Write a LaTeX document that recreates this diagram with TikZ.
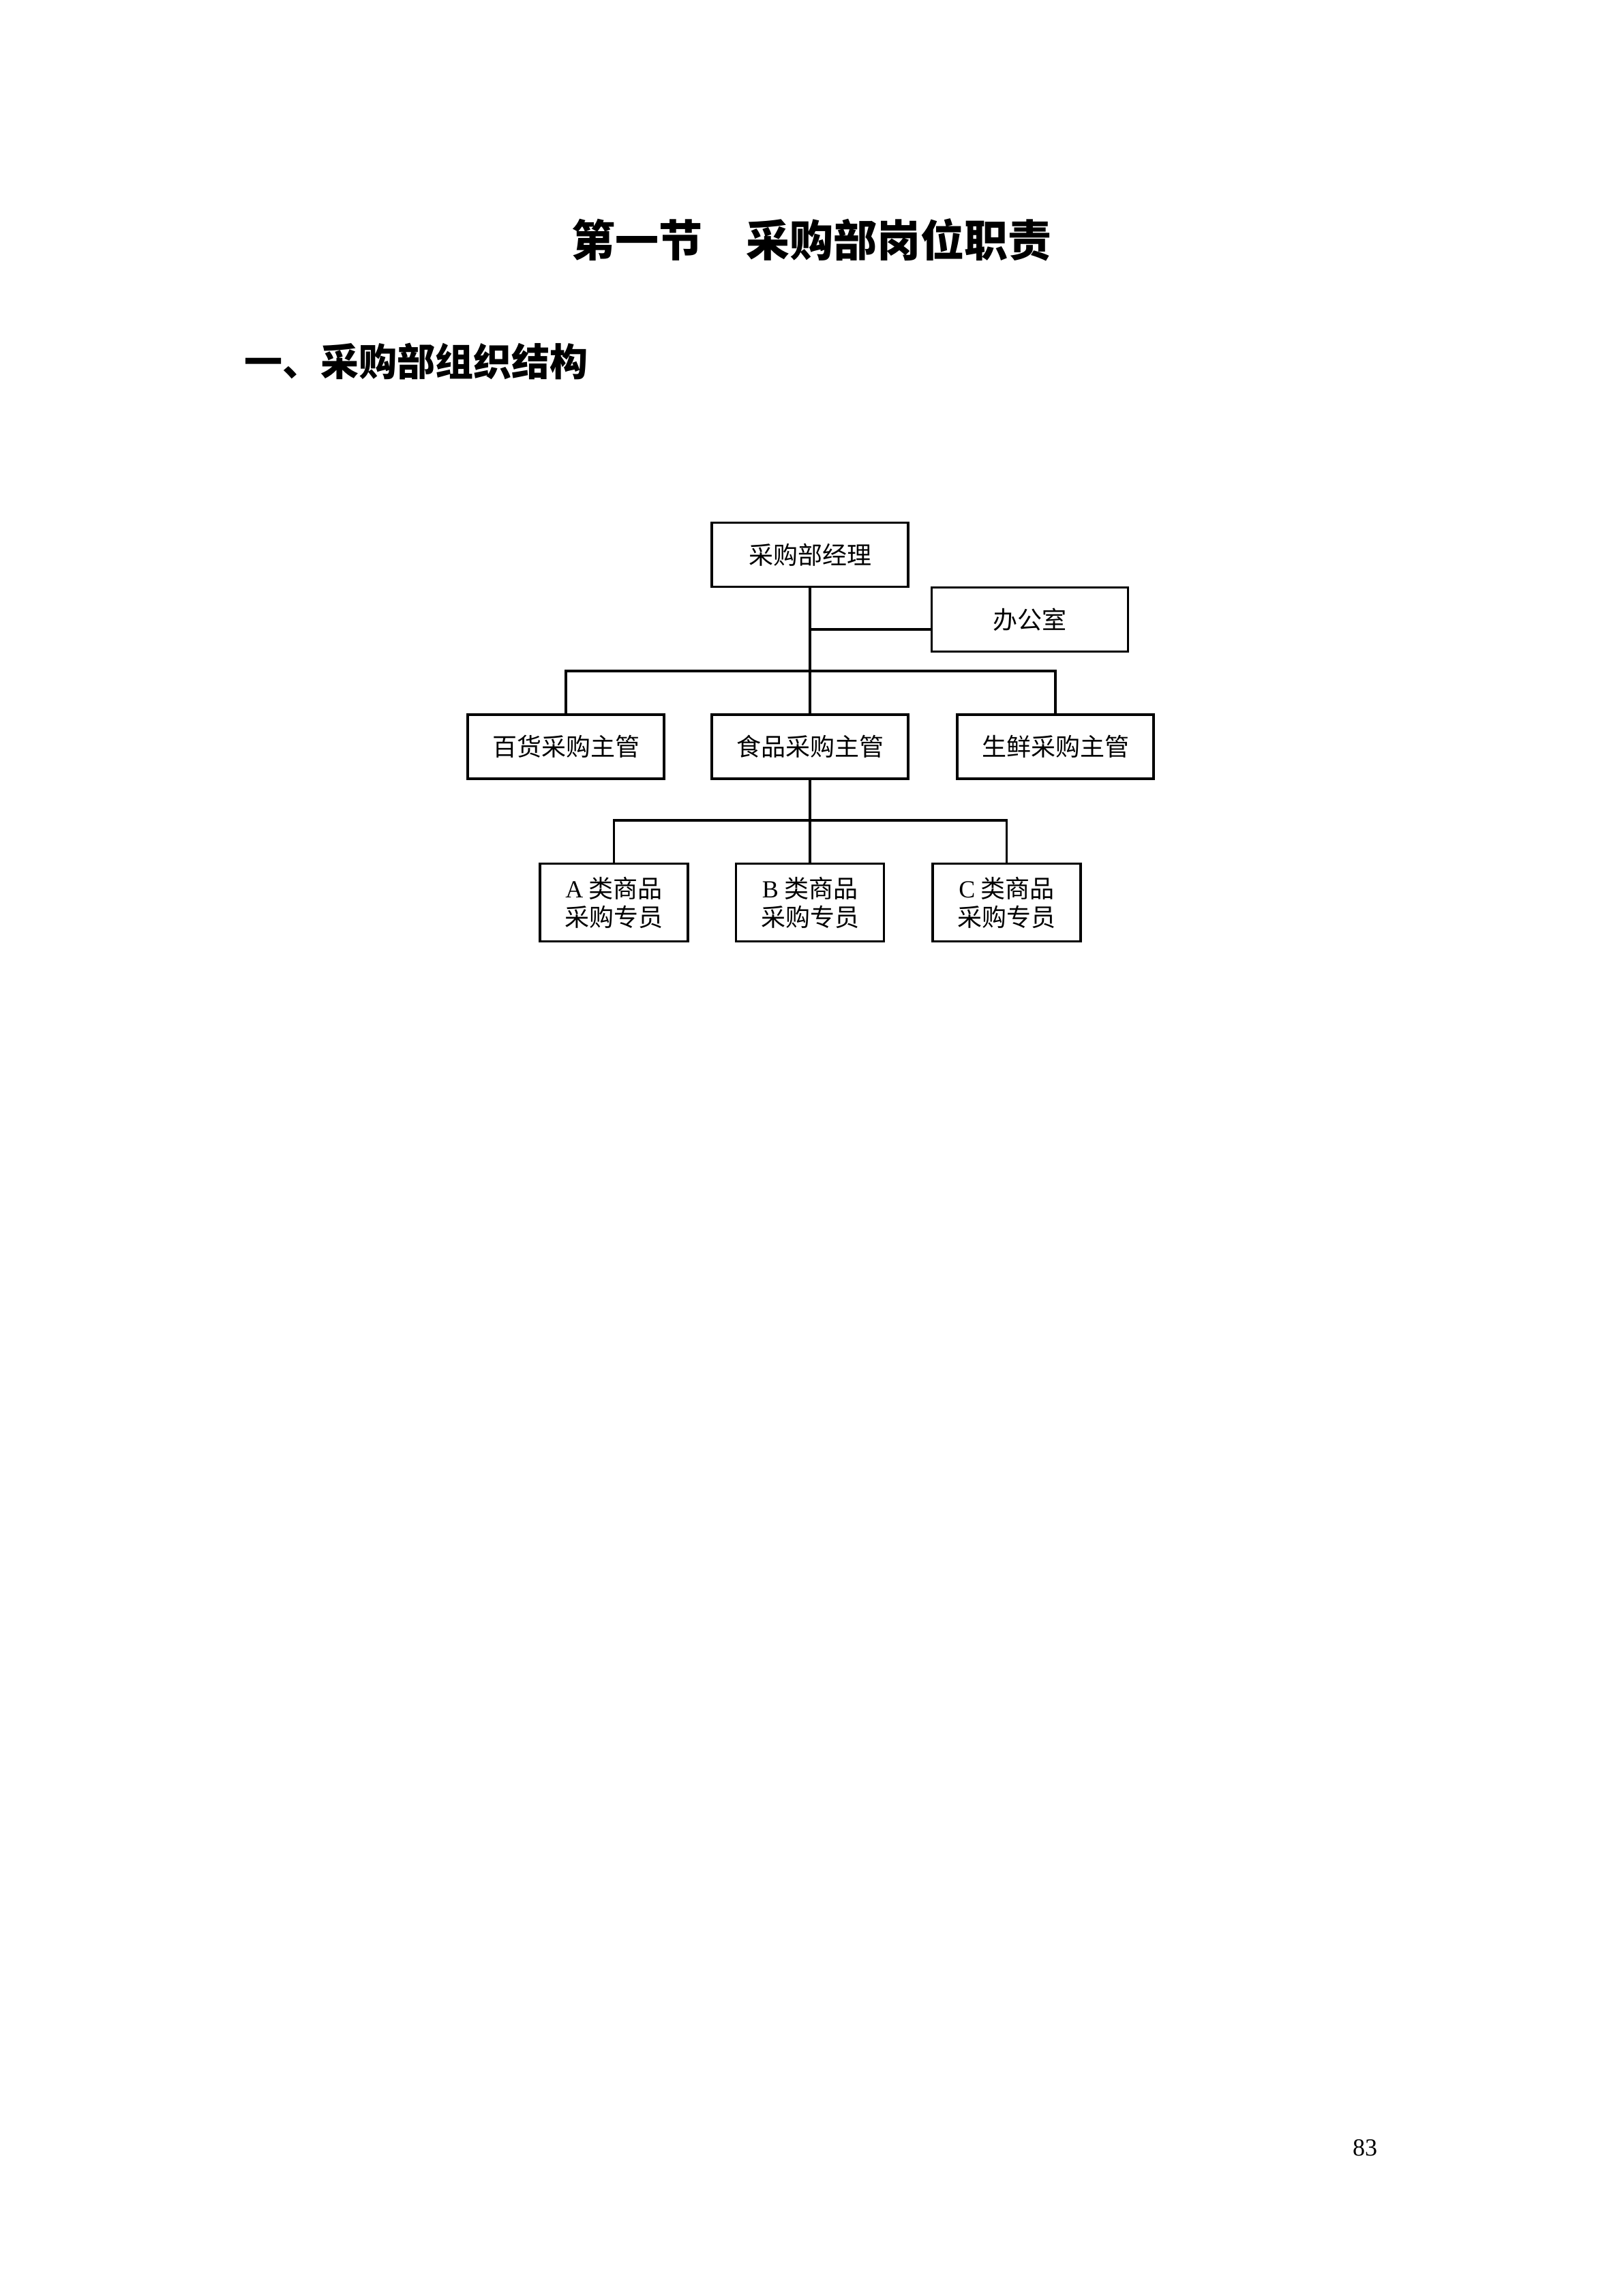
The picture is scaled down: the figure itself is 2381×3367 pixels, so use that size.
\documentclass[tikz,border=0pt]{standalone}
\usepackage{fontspec}
\setmainfont{Liberation Serif}
\newfontfamily\cjk{Noto Sans CJK SC}
\begin{document}
\begin{tikzpicture}[x=0.25pt,y=-0.25pt,
  box/.style={draw, line width=0.9pt, inner sep=0pt, align=center,
    font=\cjk\fontsize{9pt}{10.5pt}\selectfont},
  bigbox/.style={box, minimum width=72pt, minimum height=23.5pt},
  smallbox/.style={box, minimum width=54.25pt, minimum height=28.5pt},
  link/.style={line width=0.9pt}]
\useasboundingbox (0,0) rectangle (2381,3367);
% headings
\node[font=\cjk\bfseries\fontsize{16pt}{19pt}\selectfont] (title) at (1190,352) {第一节　采购部岗位职责};
\node[anchor=west, inner sep=0pt, font=\cjk\bfseries\fontsize{14pt}{17pt}\selectfont] (sub) at (358,530) {一、采购部组织结构};
% boxes
\node[bigbox] (mgr) at (1188,813.5) {采购部经理};
\node[bigbox] (off) at (1510.5,908.5) {办公室};
\node[bigbox] (gm) at (830,1095) {百货采购主管};
\node[bigbox] (food) at (1188,1095) {食品采购主管};
\node[bigbox] (fresh) at (1548,1095) {生鲜采购主管};
\node[smallbox] (ca) at (900.5,1323.5) {{\rmfamily A} 类商品\\采购专员};
\node[smallbox] (cb) at (1188,1323.5) {{\rmfamily B} 类商品\\采购专员};
\node[smallbox] (cc) at (1476.5,1323.5) {{\rmfamily C} 类商品\\采购专员};
% connectors
\draw[link] (mgr.south) -- (food.north);
\coordinate (ojoin) at (1188,923);
\draw[link] (ojoin) -- (ojoin -| off.west);
\draw[link] (gm.north) -- ++(0,-62) -| (fresh.north);
\draw[link] (food.south) -- (cb.north);
\draw[link] (ca.north) -- ++(0,-62) -| (cc.north);
% page number
\node[anchor=base, inner sep=0pt, font=\fontsize{9pt}{11pt}\selectfont] (pg) at (2002,3161) {83};
\end{tikzpicture}
\end{document}
